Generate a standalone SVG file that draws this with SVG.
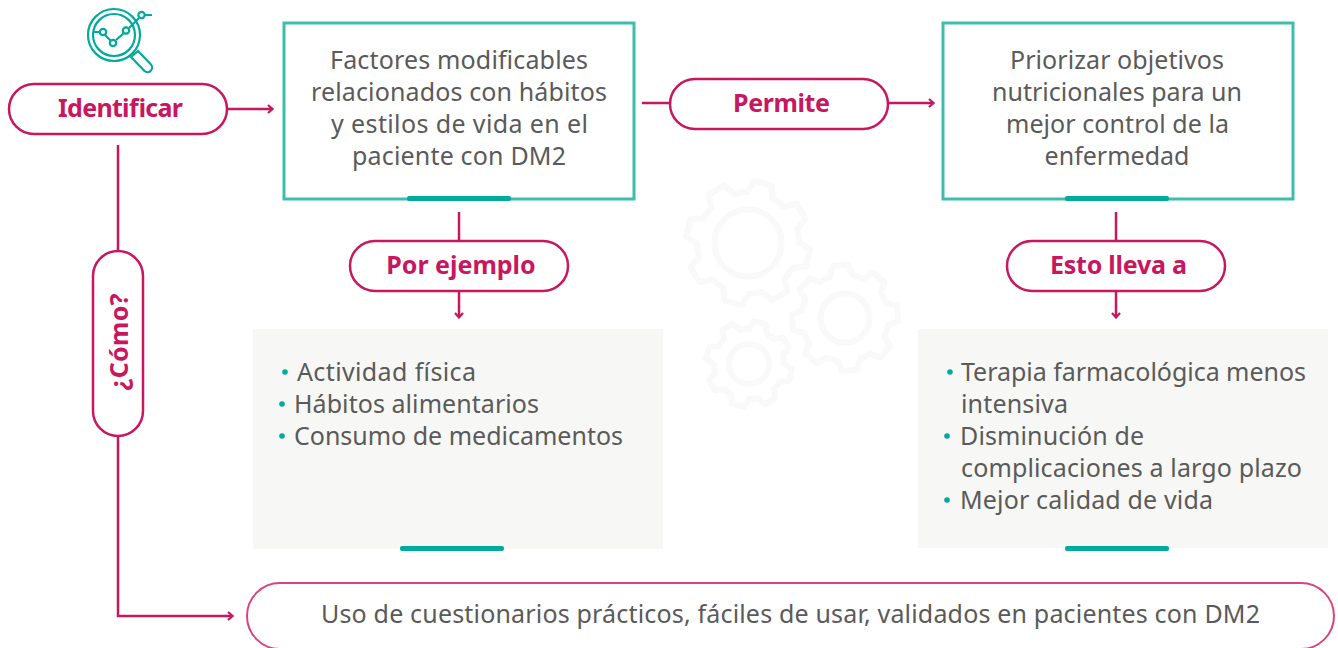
<svg xmlns="http://www.w3.org/2000/svg" width="1338" height="648" viewBox="0 0 1338 648">
<style>
text{font-family:"Noto Sans","Open Sans",sans-serif;}
.b{font-size:25px;fill:#5a5a5a;text-anchor:middle}
.l{font-size:25px;fill:#5a5a5a}
.h{font-size:25px;font-weight:700;fill:#c8175f;text-anchor:middle}
.p{fill:#fff;stroke:#c8175f;stroke-width:2.5}
.box{fill:#fff;stroke:#3dbdac;stroke-width:3}
.bar{fill:#00ab9b}
.c{fill:none;stroke:#c8175f;stroke-width:2.5}
.dot{fill:#00ab9b}
.g{fill:none;stroke:#f9f9f9;stroke-width:6;stroke-linejoin:round;stroke-linecap:round}
.ic{fill:none;stroke:#00ab9b;stroke-width:2.2}
</style>
<defs>
<marker id="a" markerWidth="8" markerHeight="10" refX="6" refY="5" orient="auto" markerUnits="userSpaceOnUse"><path d="M2 1L6.5 5L2 9" fill="none" stroke="#c8175f" stroke-width="2.2"/></marker>
<path id="t" d="M47.3-12.7L59.4-8.4L59.4 8.4L47.3 12.7A49 49 0 0 1 42.4 24.5"/>
<g id="gear"><use href="#t"/><use href="#t" transform="rotate(45)"/><use href="#t" transform="rotate(90)"/><use href="#t" transform="rotate(135)"/><use href="#t" transform="rotate(180)"/><use href="#t" transform="rotate(225)"/><use href="#t" transform="rotate(270)"/><use href="#t" transform="rotate(315)"/></g>
</defs>
<rect width="1338" height="648" fill="#fff"/>
<g id="gears" class="g">
<use href="#gear" transform="translate(748 243) rotate(14) scale(1.04)" style="stroke-width:5.8"/>
<circle cx="748" cy="243" r="33.5"/>
<use href="#gear" transform="translate(845 318) rotate(-5) scale(.89)" style="stroke-width:6.7"/>
<circle cx="845" cy="318" r="24.5"/>
<use href="#gear" transform="translate(749 364) rotate(15) scale(.72)" style="stroke-width:8.300"/>
<circle cx="749" cy="364" r="20"/>
</g>
<g id="connectors">
<path class="c" d="M228 109H272" marker-end="url(#a)"/>
<path class="c" d="M642 103H669M889 103H933" marker-end="url(#a)"/>
<path class="c" d="M459 212V240M459 291V317" marker-end="url(#a)"/>
<path class="c" d="M1116 212V240M1116 291V317" marker-end="url(#a)"/>
<path class="c" d="M118 145V251M118 436V616H232" marker-end="url(#a)"/>
</g>
<g id="icon">
<circle class="ic" cx="114" cy="35" r="26"/><circle class="ic" cx="114" cy="35" r="21"/>
<path class="ic" d="M94 32H100M105 35L111 41M116 40L124 33M129 28L139 18M145 15H152"/>
<circle class="ic" cx="103" cy="32" r="3.2"/><circle class="ic" cx="113" cy="43" r="3.2"/><circle class="ic" cx="126" cy="30.500" r="3.2"/><circle class="ic" cx="141.500" cy="15" r="3.2"/>
<path class="ic" d="M131 57L138 51L150.500 64A4.500 4.500 0 0 1 144.500 71Z"/>
</g>
<g id="identificar"><rect class="p" x="9" y="84" width="218" height="50" rx="25"/><text class="h" x="120.500" y="117" textLength="125">Identificar</text></g>
<g id="factores"><rect class="box" x="284" y="23" width="350" height="176"/><rect class="bar" x="407" y="196" width="104" height="5" rx="2"/>
<text class="b" x="459" y="69" textLength="258">Factores modificables</text><text class="b" x="459" y="101" textLength="296">relacionados con hábitos</text><text class="b" x="459.500" y="133" textLength="257">y estilos de vida en el</text><text class="b" x="459" y="165" textLength="214">paciente con DM2</text></g>
<g id="permite"><rect class="p" x="670" y="79" width="218" height="50" rx="25"/><text class="h" x="781.500" y="112" textLength="97">Permite</text></g>
<g id="priorizar"><rect class="box" x="943" y="23" width="350" height="176"/><rect class="bar" x="1065" y="196" width="104" height="5" rx="2"/>
<text class="b" x="1117" y="69" textLength="214">Priorizar objetivos</text><text class="b" x="1117" y="101" textLength="250">nutricionales para un</text><text class="b" x="1117.500" y="133" textLength="223">mejor control de la</text><text class="b" x="1117" y="165">enfermedad</text></g>
<g id="ejemplo"><rect class="p" x="350" y="241" width="218" height="50" rx="25"/><text class="h" x="461" y="274">Por ejemplo</text></g>
<g id="esto"><rect class="p" x="1007" y="241" width="218" height="50" rx="25"/><text class="h" x="1118.500" y="274" textLength="137">Esto lleva a</text></g>
<g id="como"><rect class="p" x="93" y="251" width="50" height="185" rx="25"/><text class="h" transform="translate(128 342) rotate(-90)" textLength="97">¿Cómo?</text></g>
<g id="lista1"><rect x="253" y="329" width="410" height="220" fill="#f7f7f5"/><rect class="bar" x="400" y="546" width="104" height="5" rx="2"/>
<circle class="dot" cx="285" cy="372" r="2.800"/><circle class="dot" cx="282" cy="404" r="2.800"/><circle class="dot" cx="282" cy="436" r="2.800"/>
<text class="l" x="297" y="381" textLength="179">Actividad física</text><text class="l" x="294" y="413" textLength="245">Hábitos alimentarios</text><text class="l" x="294" y="445" textLength="329">Consumo de medicamentos</text></g>
<g id="lista2"><rect x="918" y="329" width="410" height="219" fill="#f7f7f5"/><rect class="bar" x="1065" y="546" width="104" height="5" rx="2"/>
<circle class="dot" cx="950" cy="372" r="2.800"/><circle class="dot" cx="947" cy="436" r="2.800"/><circle class="dot" cx="947" cy="500" r="2.800"/>
<text class="l" x="961" y="381" textLength="345">Terapia farmacológica menos</text><text class="l" x="961" y="413" textLength="107">intensiva</text><text class="l" x="960" y="445" textLength="184">Disminución de</text><text class="l" x="961" y="477" textLength="341">complicaciones a largo plazo</text><text class="l" x="960" y="509" textLength="253">Mejor calidad de vida</text></g>
<g id="uso"><rect x="247" y="583" width="1087" height="66" rx="33" fill="#fff" stroke="#d9447f" stroke-width="2"/><text class="b" x="790.500" y="623" textLength="939">Uso de cuestionarios prácticos, fáciles de usar, validados en pacientes con DM2</text></g>
</svg>
